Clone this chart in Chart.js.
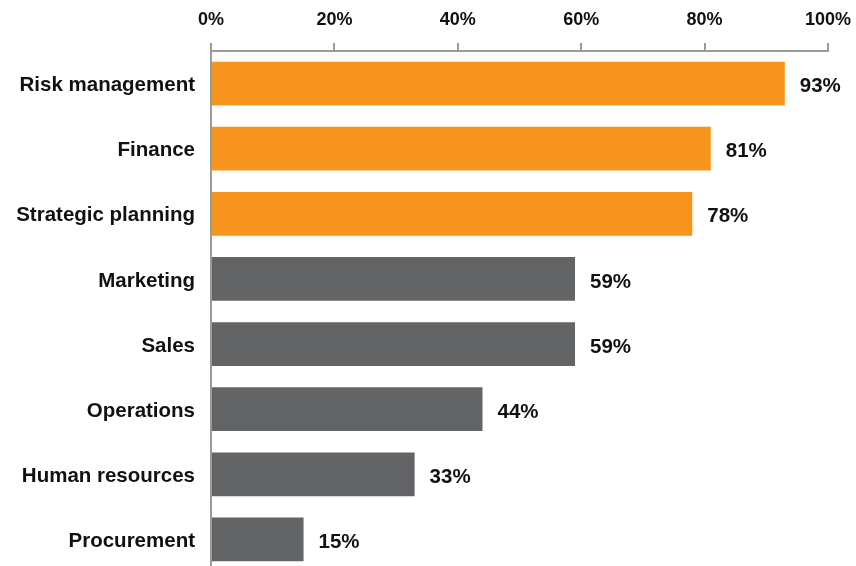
<!DOCTYPE html>
<html>
<head>
<meta charset="utf-8">
<script src="https://cdn.jsdelivr.net/npm/chart.js@4"></script>
<style>
  html, body { margin: 0; padding: 0; background: #fff; overflow: hidden; }
  #wrap { width: 856px; height: 566px; overflow: hidden; }
</style>
</head>
<body>
<div id="wrap"><canvas id="chart" width="856" height="572"></canvas></div>
<script>
const categories = ['Risk management', 'Finance', 'Strategic planning', 'Marketing', 'Sales', 'Operations', 'Human resources', 'Procurement'];
const values = [93, 81, 78, 59, 59, 44, 33, 15];
// top three are highlighted
const highlight = [true, true, true, false, false, false, false, false];
const tickValues = [0, 20, 40, 60, 80, 100];

const ORANGE = '#F7941E';
const GRAY = '#636466';
const AXIS = '#9b9b9b';
const TEXT = '#111111';
const FONT = 'Arial, "Liberation Sans", sans-serif';

// value labels just past the end of each bar
const valueLabels = {
  id: 'valueLabels',
  afterDatasetsDraw(chart) {
    const ctx = chart.ctx;
    const meta = chart.getDatasetMeta(0);
    ctx.save();
    ctx.font = 'bold 20.5px ' + FONT;
    ctx.fillStyle = TEXT;
    ctx.textAlign = 'left';
    ctx.textBaseline = 'middle';
    meta.data.forEach((bar, i) => {
      ctx.fillText(values[i] + '%', bar.x + 15, bar.y + 3);
    });
    ctx.restore();
  }
};

new Chart(document.getElementById('chart'), {
  type: 'bar',
  data: {
    labels: categories,
    datasets: [{
      data: values,
      backgroundColor: highlight.map(h => h ? ORANGE : GRAY),
      borderWidth: 0,
      barPercentage: 0.67,
      categoryPercentage: 1
    }]
  },
  options: {
    indexAxis: 'y',
    responsive: false,
    animation: false,
    layout: { padding: { left: 0, right: 28, top: 0, bottom: 0 } },
    plugins: {
      legend: { display: false },
      tooltip: { enabled: false }
    },
    scales: {
      x: {
        position: 'top',
        min: 0,
        max: 100,
        afterFit: s => {
          s.height = 51;
          s.paddingLeft = 0;
          s.paddingRight = 0;
        },
        afterBuildTicks: s => { s.ticks = tickValues.map(v => ({ value: v })); },
        border: { display: true, color: AXIS, width: 2 },
        grid: { drawOnChartArea: false, drawTicks: true, tickLength: 8, color: AXIS, lineWidth: 2 },
        ticks: {
          padding: 12,
          maxRotation: 0,
          color: TEXT,
          font: { family: FONT, size: 18, weight: 'bold' },
          callback: v => v + '%'
        }
      },
      y: {
        afterFit: s => {
          s.width = 211;
          s.paddingTop = 0;
          s.paddingBottom = 0;
        },
        border: { display: true, color: AXIS, width: 2 },
        grid: { display: false, drawTicks: false },
        ticks: {
          padding: 16,
          labelOffset: 2,
          color: TEXT,
          font: { family: FONT, size: 20.5, weight: 'bold' }
        }
      }
    }
  },
  plugins: [valueLabels]
});
</script>
</body>
</html>
